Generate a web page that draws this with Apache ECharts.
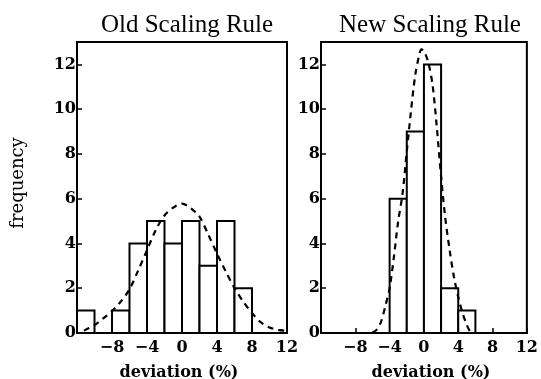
<!DOCTYPE html>
<html>
<head>
<meta charset="utf-8">
<script src="https://cdn.jsdelivr.net/npm/echarts@6/dist/echarts.min.js"></script>
<style>
  html, body { margin: 0; padding: 0; background: #fff; }
  #chart { width: 541px; height: 379px; }
</style>
</head>
<body>
<div id="chart"></div>
<script>
// histogram bins (start of each 2% bin) and counts
const binWidth = 2
const oldBinStart = [-12, -10, -8, -6, -4, -2, 0, 2, 4, 6, 8, 10]
const oldCounts = [1, 0, 1, 4, 5, 4, 5, 3, 5, 2, 0, 0]
const newBinStart = [-12, -10, -8, -6, -4, -2, 0, 2, 4, 6, 8, 10]
const newCounts = [0, 0, 0, 0, 6, 9, 12, 2, 1, 0, 0, 0]

// fitted curves
const oldCurveX = [-11.2, -11, -10, -9, -8, -7, -6, -5, -4, -3, -2, -1, 0, 1, 2, 3, 4, 5, 6, 7, 8, 9, 10, 11, 11.8]
const oldCurveY = [0.1, 0.15, 0.35, 0.65, 0.98, 1.4, 1.95, 2.8, 3.7, 4.6, 5.25, 5.6, 5.78, 5.58, 5.2, 4.4, 3.55, 2.75, 2.0, 1.4, 0.89, 0.48, 0.25, 0.14, 0.1]
const newCurveX = [-6, -5.5, -5, -4.5, -4, -3.5, -3, -2.5, -2, -1.5, -1, -0.5, -0.3, 0, 0.5, 1, 1.5, 2, 2.5, 3, 3.5, 4, 4.5, 5, 5.4]
const newCurveY = [0.02, 0.15, 0.5, 1.2, 2.0, 3.4, 5.0, 6.2, 8.1, 9.95, 11.55, 12.5, 12.67, 12.6, 12.1, 11.1, 9.2, 7.0, 5.1, 3.7, 2.5, 1.6, 0.9, 0.35, 0.05]

// tick labels
const xTickValues = [-8, -4, 0, 4, 8, 12]
const xTickLabels = ['−8', '−4', '0', '4', '8', '12']
const yTickValues = [0, 2, 4, 6, 8, 10, 12]
const yTickLabels = ['0', '2', '4', '6', '8', '10', '12']

const panelTitles = ['Old Scaling Rule', 'New Scaling Rule']
const xName = 'deviation (%)'
const yName = 'frequency'

const serif = '"Liberation Serif", "DejaVu Serif", serif'
const boldSerif = '"DejaVu Serif", serif'

const chart = echarts.init(document.getElementById('chart'))

const xLabel = v => {
  const i = xTickValues.indexOf(v)
  return i >= 0 ? xTickLabels[i] : ''
}
const yLabel = v => {
  const i = yTickValues.indexOf(v)
  return i >= 0 ? yTickLabels[i] : ''
}

const makeX = gridIndex => ({
  type: 'value', gridIndex, min: -12, max: 12, interval: 4,
  axisLine: { onZero: false, lineStyle: { color: '#000', width: 2 } },
  axisTick: { inside: true, length: 5, lineStyle: { color: '#000', width: 1.5 } },
  axisLabel: { formatter: xLabel, color: '#000', fontFamily: boldSerif, fontWeight: 'bold', fontSize: 16, margin: 7 },
  splitLine: { show: false }
})
const makeY = gridIndex => ({
  type: 'value', gridIndex, min: 0, max: 13, interval: 2,
  axisLine: { onZero: false, lineStyle: { color: '#000', width: 2 } },
  axisTick: { inside: true, length: 5, lineStyle: { color: '#000', width: 1.5 } },
  axisLabel: { formatter: yLabel, color: '#000', fontFamily: boldSerif, fontWeight: 'bold', fontSize: 16, margin: 1, showMaxLabel: false },
  splitLine: { show: false }
})

// histogram bars through the axis scales
const histItem = (params, api) => {
  const x0 = api.value(0)
  const h = api.value(1)
  if (!h) return null
  const p0 = api.coord([x0, h])
  const p1 = api.coord([x0 + binWidth, 0])
  return {
    type: 'rect',
    shape: { x: p0[0], y: p0[1], width: p1[0] - p0[0], height: p1[1] - p0[1] },
    style: { fill: '#fff', stroke: '#000', lineWidth: 2 }
  }
}

const histSeries = (starts, counts, idx) => ({
  type: 'custom', xAxisIndex: idx, yAxisIndex: idx,
  renderItem: histItem,
  data: starts.map((s, i) => [s, counts[i]]),
  z: 2
})
const curveSeries = (xs, ys, idx) => ({
  type: 'line', xAxisIndex: idx, yAxisIndex: idx,
  data: xs.map((x, i) => [x, ys[i]]),
  smooth: 0.3, symbol: 'none',
  lineStyle: { color: '#000', width: 2.2, type: [6, 5] },
  z: 3
})

chart.setOption({
  animation: false,
  backgroundColor: '#fff',
  title: [
    { text: panelTitles[0], left: 182, top: 8, textAlign: 'center', textStyle: { fontFamily: serif, fontWeight: 'normal', fontSize: 25, color: '#000' } },
    { text: panelTitles[1], left: 425, top: 8, textAlign: 'center', textStyle: { fontFamily: serif, fontWeight: 'normal', fontSize: 25, color: '#000' } },
    { text: xName, left: 174, top: 360, textAlign: 'center', textStyle: { fontFamily: boldSerif, fontWeight: 'bold', fontSize: 16, color: '#000' } },
    { text: xName, left: 426, top: 360, textAlign: 'center', textStyle: { fontFamily: boldSerif, fontWeight: 'bold', fontSize: 16, color: '#000' } }
  ],
  graphic: [{
    type: 'text', x: 18, y: 183, rotation: Math.PI / 2, originX: 0, originY: 0,
    style: { text: yName, font: '18px "DejaVu Serif", serif', fill: '#000', align: 'center', verticalAlign: 'middle' }
  }],
  grid: [
    { left: 77, right: 254, top: 42, bottom: 46, show: true, borderColor: '#000', borderWidth: 2 },
    { left: 321, right: 10, top: 42, bottom: 46, show: true, borderColor: '#000', borderWidth: 2 }
  ],
  xAxis: [makeX(0), makeX(1)],
  yAxis: [makeY(0), makeY(1)],
  series: [
    histSeries(oldBinStart, oldCounts, 0),
    curveSeries(oldCurveX, oldCurveY, 0),
    histSeries(newBinStart, newCounts, 1),
    curveSeries(newCurveX, newCurveY, 1)
  ]
})
</script>
</body>
</html>
